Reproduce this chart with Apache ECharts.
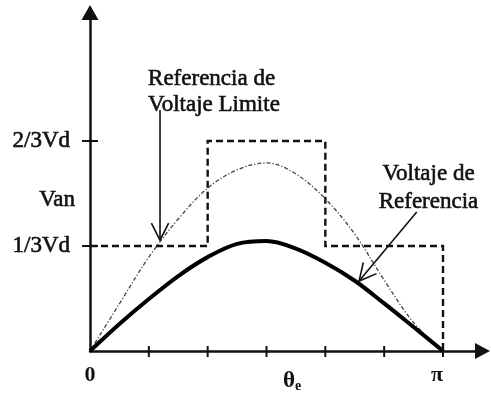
<!DOCTYPE html>
<html>
<head>
<meta charset="utf-8">
<script src="https://cdn.jsdelivr.net/npm/echarts@6/dist/echarts.min.js"></script>
<style>
  html, body { margin: 0; padding: 0; background: #fff; }
  #chart { width: 491px; height: 397px; }
</style>
</head>
<body>
<div id="chart"></div>
<script>
// Electrical angle samples in degrees (0 .. 180 stands for 0 .. π)
const angles = [0, 15, 30, 45, 60, 75, 90, 105, 120, 135, 150, 165, 180];
// Limit reference voltage, as a fraction of Vd
const limitReference = [0, 0.150, 0.298, 0.419, 0.517, 0.575, 0.597, 0.562, 0.483, 0.371, 0.225, 0.090, 0];
// Reference voltage, as a fraction of Vd
const voltageReference = [0, 0.086, 0.165, 0.238, 0.298, 0.340, 0.349, 0.325, 0.280, 0.223, 0.151, 0.076, 0];
// Six-step phase voltage Van: corners of the staircase
const stepAngles = [0, 60, 60, 120, 120, 180, 180];
const stepLevels = [1 / 3, 1 / 3, 2 / 3, 2 / 3, 1 / 3, 1 / 3, 0];

// Axis marks and labels
const xTickAngles = [30, 60, 90, 120, 150, 180];
const xLabelAngles = [0, 180];
const xLabels = ['0', 'π'];
const yTickLevels = [1 / 3, 2 / 3];
const yLabels = ['1/3Vd', '2/3Vd'];
const yName = 'Van';
const xName = ['θ', 'e'];

// Annotations: text lines and arrows [from angle, from level, to angle, to level]
const limitNote = ['Referencia de', 'Voltaje Limite'];
const limitArrow = [35.7, 0.765, 35.7, 0.352];
const refNote = ['Voltaje de', 'Referencia'];
const refArrow = [166.6, 0.441, 137.2, 0.222];

const SERIF = "'Liberation Serif', 'DejaVu Serif', serif";
const INK = '#111';

const pairs = (xs, ys) => xs.map((x, i) => [x, ys[i]]);

// Serif label, slightly thickened with a hairline glyph outline in the same ink
function text(x, y, str, extra) {
  return {
    type: 'text', x: x, y: y,
    style: Object.assign({
      text: str, fill: INK, fontFamily: SERIF, fontSize: 23, fontWeight: 'normal',
      stroke: INK, lineWidth: 0.6,
      align: 'left', verticalAlign: 'middle'
    }, extra || {})
  };
}

function renderDecor(params, api) {
  const c = (x, y) => api.coord([x, y]);
  const kids = [];

  // Tick marks crossing the axes
  xTickAngles.forEach(function (a) {
    const p = c(a, 0);
    kids.push({ type: 'line', shape: { x1: p[0], y1: p[1] - 5, x2: p[0], y2: p[1] + 6 },
      style: { stroke: INK, lineWidth: 2 } });
  });
  yTickLevels.forEach(function (v) {
    const p = c(0, v);
    kids.push({ type: 'line', shape: { x1: p[0] - 8, y1: p[1], x2: p[0] + 8, y2: p[1] },
      style: { stroke: INK, lineWidth: 2 } });
  });

  // Axis labels
  yTickLevels.forEach(function (v, i) {
    const p = c(0, v);
    kids.push(text(p[0] - 20, p[1], yLabels[i], { align: 'right' }));
  });
  const pv = c(0, 0.479);
  kids.push(text(pv[0] - 15, pv[1], yName, { align: 'right' }));
  xLabelAngles.forEach(function (a, i) {
    const p = c(a, 0);
    kids.push(text(p[0] - (i ? 6 : 0), p[1] + 24, xLabels[i],
      { align: 'center', fontSize: 22, fontWeight: 'bold', lineWidth: 0 }));
  });
  const pt = c(103, 0);
  kids.push(text(pt[0], pt[1] + 30, '{t|' + xName[0] + '}{s|' + xName[1] + '}', {
    align: 'center', lineWidth: 0,
    rich: {
      t: { fontFamily: SERIF, fontSize: 23, fontWeight: 'bold', fill: INK },
      s: { fontFamily: SERIF, fontSize: 14, fontWeight: 'bold', fill: INK, padding: [10, 0, 0, 0] }
    }
  }));

  // Annotation texts
  const pl = c(29.6, 0.863);
  limitNote.forEach(function (s, i) { kids.push(text(pl[0], pl[1] + i * 26, s)); });
  const pr = c(172.6, 0.561);
  refNote.forEach(function (s, i) { kids.push(text(pr[0], pr[1] + i * 28, s, { align: 'center' })); });

  // Annotation arrows with open heads
  [limitArrow, refArrow].forEach(function (a) {
    const s = c(a[0], a[1]), t = c(a[2], a[3]);
    const dx = s[0] - t[0], dy = s[1] - t[1], len = Math.hypot(dx, dy);
    const ux = dx / len, uy = dy / len, L = 19, ang = 27 * Math.PI / 180;
    const barb = function (k) {
      return [t[0] + L * (ux * Math.cos(k) - uy * Math.sin(k)),
              t[1] + L * (ux * Math.sin(k) + uy * Math.cos(k))];
    };
    kids.push({ type: 'line', shape: { x1: s[0], y1: s[1], x2: t[0], y2: t[1] },
      style: { stroke: INK, lineWidth: 1.6 } });
    kids.push({ type: 'polyline', shape: { points: [barb(ang), t, barb(-ang)] },
      style: { stroke: INK, lineWidth: 1.6, fill: null } });
  });

  return { type: 'group', children: kids };
}

const chart = echarts.init(document.getElementById('chart'), null, { renderer: 'canvas' });
chart.setOption({
  animation: false,
  backgroundColor: '#fff',
  grid: { left: 90, right: 8.5, top: 12.5, bottom: 46 },
  xAxis: {
    type: 'value', min: 0, max: 200.14,
    axisLine: { show: true, symbol: ['none', 'triangle'], symbolSize: [16, 15],
      lineStyle: { color: INK, width: 2.5 } },
    axisTick: { show: false }, axisLabel: { show: false }, splitLine: { show: false }
  },
  yAxis: {
    type: 'value', min: 0, max: 1.0746,
    axisLine: { show: true, symbol: ['none', 'triangle'], symbolSize: [17, 15],
      lineStyle: { color: INK, width: 2.5 } },
    axisTick: { show: false }, axisLabel: { show: false }, splitLine: { show: false }
  },
  series: [
    {
      name: 'Van', type: 'line', data: pairs(stepAngles, stepLevels), symbol: 'none',
      lineStyle: { color: INK, width: 2.4, type: [7, 4], cap: 'butt', join: 'miter' }
    },
    {
      name: 'Referencia de Voltaje Limite', type: 'line', data: pairs(angles, limitReference),
      symbol: 'none', smooth: 0.35,
      lineStyle: { color: '#222', width: 1.3, type: [4, 2, 1.2, 2], opacity: 0.85 }
    },
    {
      name: 'Voltaje de Referencia', type: 'line', data: pairs(angles, voltageReference),
      symbol: 'none', smooth: 0.35,
      lineStyle: { color: '#000', width: 4 }
    },
    {
      type: 'custom', data: [[0, 0]], clip: false, silent: true, z: 5,
      renderItem: renderDecor
    }
  ]
});
</script>
</body>
</html>
